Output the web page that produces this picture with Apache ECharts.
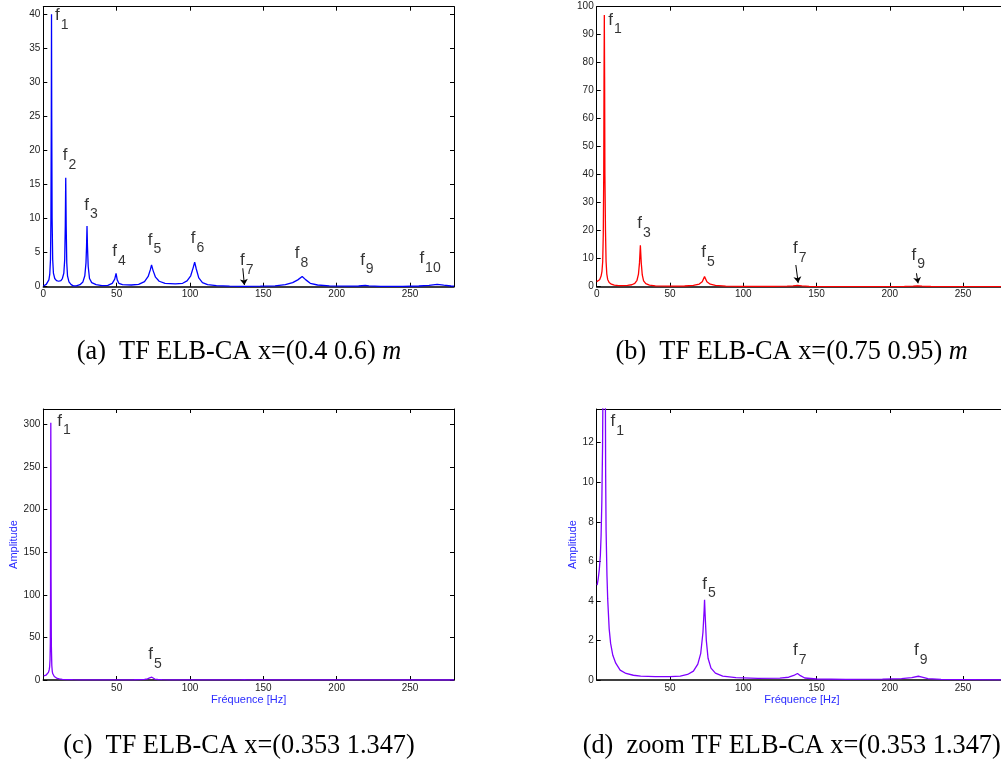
<!DOCTYPE html>
<html><head><meta charset="utf-8">
<script src="https://cdn.jsdelivr.net/npm/echarts@6/dist/echarts.min.js"></script>
<style>html,body{margin:0;padding:0;overflow:hidden;background:#fff}#c{width:1010px;height:764px}</style>
</head><body><div id="c"></div><script>
// ---- data: [frequency Hz, amplitude] ----
const curveA = [[0,0.1],[1,0.2],[2,0.35],[3,0.6],[3.8,1.0],[4.4,1.8],[4.9,4],[5.2,10],[5.45,25],[5.6,40],[5.75,25],[6.0,10],[6.4,4],[6.9,2],[7.8,1.2],[9,0.9],[10.5,0.8],[12,0.9],[13,1.2],[14,2],[14.6,4],[15.0,9],[15.3,16],[15.6,9],[16.0,3.5],[16.5,1.6],[17.5,0.7],[19,0.3],[20.5,0.12],[22.5,0.12],[25,0.3],[27,0.7],[28.3,1.6],[29.1,3.5],[29.5,6],[29.8,8.9],[30.1,6],[30.6,3],[31.5,1.2],[33,0.6],[36,0.3],[40,0.15],[44,0.2],[47,0.5],[48.7,1.1],[49.6,1.95],[50.4,1.0],[51.5,0.5],[54,0.3],[60,0.25],[65,0.35],[69,0.75],[71.5,1.5],[73,2.5],[73.8,3.2],[74.8,2.4],[76.5,1.4],[79,0.8],[83,0.5],[90,0.4],[95,0.5],[98,0.85],[100.5,1.6],[102.2,2.8],[103.2,3.6],[104.3,2.6],[106,1.3],[108.5,0.6],[112,0.3],[118,0.15],[127,0.07],[137,0.05],[148,0.07],[158,0.13],[165,0.3],[170,0.6],[173.5,1.0],[176.5,1.5],[179,1.0],[182,0.5],[187,0.25],[195,0.12],[208,0.07],[215,0.1],[219.5,0.18],[222,0.12],[230,0.05],[245,0.05],[256,0.1],[263,0.2],[268.5,0.35],[273,0.22],[278,0.1],[280,0.08]];
const curveB = [[0,1.8],[1,2.0],[2,2.5],[3,3.8],[3.6,5.5],[4.1,9],[4.5,19],[4.8,40],[5.0,75],[5.2,97],[5.4,75],[5.6,40],[6.0,20],[6.4,9],[6.9,4.5],[7.5,2.6],[8.5,1.5],[10,0.9],[12,0.55],[15,0.4],[18,0.38],[21,0.45],[24,0.7],[26,1.2],[27.5,2.3],[28.5,4.5],[29.2,8.5],[29.8,14.8],[30.4,8.5],[31.1,4.2],[32,2.1],[33.5,1.1],[36,0.55],[40,0.3],[50,0.18],[60,0.25],[66,0.45],[70,0.95],[72,1.8],[73.6,3.6],[75.2,1.8],[77.5,0.9],[81,0.45],[88,0.22],[100,0.12],[120,0.1],[130,0.18],[134,0.3],[137,0.5],[140,0.3],[145,0.12],[160,0.05],[190,0.05],[210,0.1],[216,0.18],[219,0.25],[222,0.18],[228,0.07],[250,0.03],[280,0.02]];
const curveCD = [[0.3,4.8],[1,5.1],[1.8,5.6],[2.5,6.3],[3,7.3],[3.5,9],[4,11.8],[4.3,15],[4.6,24],[4.8,45],[4.95,110],[5.05,250],[5.12,302],[5.2,250],[5.3,120],[5.5,40],[5.8,17],[6.1,10.5],[6.4,7.6],[7,5.3],[7.5,4.1],[8.5,2.6],[9.5,1.85],[11,1.25],[13,0.85],[16,0.5],[20,0.33],[25,0.24],[30,0.2],[40,0.17],[50,0.17],[57,0.2],[62,0.28],[66,0.45],[69,0.8],[71,1.35],[72.5,2.4],[73.3,3.5],[73.6,4.05],[74,3.3],[74.8,2.0],[76,1.1],[78,0.6],[81,0.35],[86,0.2],[95,0.12],[110,0.08],[125,0.09],[131,0.14],[134.5,0.23],[137,0.33],[139,0.22],[142,0.1],[150,0.05],[170,0.03],[195,0.04],[208,0.07],[215,0.12],[219.5,0.19],[222,0.15],[226,0.07],[235,0.03],[255,0.02],[280,0.01]];

// ---- annotations: [Hz, amplitude, subscript] ----
const labelsA = [[8.0,39.8,'1'],[13.2,19.3,'2'],[28.0,12.0,'3'],[47.0,5.14,'4'],[71.2,6.86,'5'],[100.5,7.1,'6'],[134.1,3.82,'7'],[171.4,4.9,'8'],[216,3.92,'9'],[256.4,4.17,'10']];
const labelsB = [[7.9,95.2,'1'],[27.7,22.6,'3'],[71.3,12.3,'5'],[134,13.7,'7'],[214.8,11.3,'9']];
const labelsC = [[9.5,304,'1'],[71.6,30.2,'5']];
const labelsD = [[9.5,13.07,'1'],[72.0,4.85,'5'],[134,1.48,'7'],[216.6,1.48,'9']];
const arrowsA = [[[136.0,2.7],[137.1,0.25]]];
const arrowsB = [[[135.9,7.75],[137.5,1.4]],[[218.2,4.8],[219.3,1.2]]];
const arrowsC = [];
const arrowsD = [];

// ---- axes ----
const xMin = 0, xMax = 280, xStep = 50;
const yMaxes = [41.1, 100, 318, 13.7];
const ySteps = [5, 10, 50, 2];
const captions = [
  '(a)  TF ELB-CA x=(0.4 0.6) {i|m}',
  '(b)  TF ELB-CA x=(0.75 0.95) {i|m}',
  '(c)  TF ELB-CA x=(0.353 1.347)',
  '(d)  zoom TF ELB-CA x=(0.353 1.347)'
];
const yTitle = 'Amplitude';
const xTitle = 'Fréquence [Hz]';

// ---- layout / style ----
const grids = [
  {left:43.3, top:6.7, width:410.7, height:280},
  {left:596.7, top:6.7, width:410.7, height:280},
  {left:43.3, top:409, width:410.7, height:271},
  {left:596.7, top:409, width:410.7, height:271}
];
const captionPos = [[239,352],[791.7,352],[239,746],[791.7,746]];
const colors = ['#0000ff','#ff0000','#7f00ff','#7f00ff'];
const curves = [curveA, curveB, curveCD, curveCD];
const labels = [labelsA, labelsB, labelsC, labelsD];
const arrows = [arrowsA, arrowsB, arrowsC, arrowsD];
const showXZero = [true, true, false, false];
const yNameGap = [0, 0, 22, 18];
const SANS = '"Liberation Sans", Arial, Helvetica, sans-serif';
const SERIF = '"Liberation Serif", "Times New Roman", serif';
const nameColor = '#2b2bff';

const lineStyle = {color:'#000', width:1};
const tickStyle = {show:true, inside:true, length:4, lineStyle:{color:'#000', width:1}};
const xAxes = [], yAxes = [], series = [];
grids.forEach((g, i) => {
  const hasNames = i >= 2;
  xAxes.push({
    type:'value', gridIndex:i, min:xMin, max:xMax, interval:xStep, position:'bottom',
    axisLine:{show:true, onZero:false, lineStyle:{color:'#000', width:1.5}}, axisTick:tickStyle, splitLine:{show:false},
    axisLabel:{color:'#222', fontSize:10, fontFamily:SANS, margin:3,
      formatter:v => (v % xStep === 0 && (v !== 0 || showXZero[i])) ? String(v) : ''},
    name: hasNames ? xTitle : '', nameLocation:'middle', nameGap:14,
    nameTextStyle:{color:nameColor, fontSize:11, fontFamily:SANS}
  });
  xAxes.push({
    type:'value', gridIndex:i, min:xMin, max:xMax, interval:xStep, position:'top',
    axisLine:{show:true, onZero:false, lineStyle}, axisTick:tickStyle, splitLine:{show:false},
    axisLabel:{show:false}
  });
  yAxes.push({
    type:'value', gridIndex:i, min:0, max:yMaxes[i], interval:ySteps[i], position:'left',
    axisLine:{show:true, onZero:false, lineStyle}, axisTick:tickStyle, splitLine:{show:false},
    axisLabel:{color:'#222', fontSize:10, fontFamily:SANS, margin:3, showMaxLabel:true,
      formatter:v => (Math.abs(v / ySteps[i] - Math.round(v / ySteps[i])) < 1e-6) ? String(v) : ''},
    name: hasNames ? yTitle : '', nameLocation:'middle', nameGap:yNameGap[i],
    nameTextStyle:{color:nameColor, fontSize:11, fontFamily:SANS}
  });
  yAxes.push({
    type:'value', gridIndex:i, min:0, max:yMaxes[i], interval:ySteps[i], position:'right',
    axisLine:{show:true, onZero:false, lineStyle}, axisTick:tickStyle, splitLine:{show:false},
    axisLabel:{show:false}
  });
  series.push({
    type:'line', xAxisIndex:2*i, yAxisIndex:2*i, data:curves[i], showSymbol:false, symbol:'none',
    lineStyle:{color:colors[i], width:1.3}, clip:true, z:3, silent:true, animation:false
  });
  series.push({
    type:'scatter', xAxisIndex:2*i, yAxisIndex:2*i, symbolSize:0, silent:true, animation:false, z:4,
    data: labels[i].map(l => ({value:[l[0], l[1]], label:{formatter:'{f|f}{s|' + l[2] + '}'}})),
    label:{show:true, position:'right', distance:0,
      rich:{f:{fontSize:17, color:'#000', fontFamily:SANS},
            s:{fontSize:14, color:'#000', fontFamily:SANS, padding:[19,0,0,1]}}},
    markLine:{silent:true, animation:false, symbol:['none','arrow'], symbolSize:6,
      label:{show:false}, lineStyle:{color:'#000', width:1, type:'solid'},
      data: arrows[i].map(a => [{coord:a[0]}, {coord:a[1]}])}
  });
});

const chart = echarts.init(document.getElementById('c'), null, {renderer:'canvas'});
chart.setOption({
  animation:false,
  backgroundColor:'#fff',
  grid: grids.map(g => Object.assign({containLabel:false}, g)),
  xAxis: xAxes,
  yAxis: yAxes,
  series: series,
  graphic: captions.map((t, i) => ({
    type:'text', x:captionPos[i][0], y:captionPos[i][1], silent:true,
    style:{text:t, fontFamily:SERIF, fontSize:26.3, fill:'#000',
      align:'center', verticalAlign:'middle',
      rich:{i:{fontStyle:'italic', fontFamily:SERIF, fontSize:26.3}}}
  }))
});
</script></body></html>
